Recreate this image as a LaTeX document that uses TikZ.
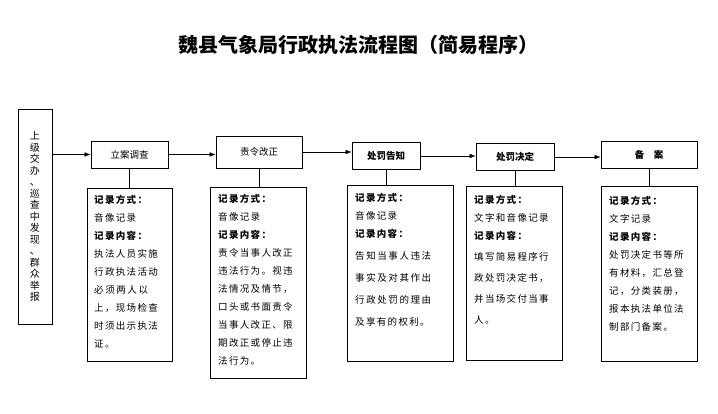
\documentclass[tikz,border=0pt]{standalone}
\usepackage{fontspec}
\setmainfont{Noto Sans CJK SC}
\newfontfamily\detfont[LetterSpace=14]{Noto Sans CJK SC}
\usetikzlibrary{arrows.meta}
\begin{document}
\begin{tikzpicture}[x=1pt,y=-1pt,
  hbox/.style={draw,thick,minimum height=27pt,font=\fontsize{9.5}{10}\selectfont},
  dbox/.style={draw,thick,anchor=north west,inner sep=0pt},
  dtext/.style={anchor=north west,align=left,inner sep=0pt,font=\detfont\fontsize{9.5}{18}\selectfont},
  arr/.style={-{Latex[length=6pt]},thin},
  link/.style={thin}]
\useasboundingbox (0,0) rectangle (718,413);
\node[font=\bfseries\fontsize{20}{22}\selectfont] (title) at (358,45) {魏县气象局行政执法流程图（简易程序）};
\node[draw,thick,minimum width=34pt,minimum height=215pt,align=center,font=\fontsize{10}{11.5}\selectfont] (src) at (35,216.5)
 {上\\级\\交\\办\\、\\巡\\查\\中\\发\\现\\、\\群\\众\\举\\报};
\node[hbox,minimum width=77pt] (h1) at (129.5,154.5) {立案调查};
\node[hbox,minimum width=86pt,minimum height=32pt] (h2) at (259,152) {责令改正};
\node[hbox,minimum width=68pt,font=\bfseries\fontsize{9.5}{10}\selectfont] (h3) at (386,156) {处罚告知};
\node[hbox,minimum width=78pt,font=\bfseries\fontsize{9.5}{10}\selectfont] (h4) at (515,157) {处罚决定};
\node[hbox,minimum width=96pt,font=\bfseries\fontsize{9.5}{10}\selectfont] (h5) at (649,155) {备\quad 案};
\draw[arr] (src.east |- h1) -- (h1.west);
\draw[arr] (h1.east) -- (h1.east -| h2.west);
\draw[arr] (h2.east) -- (h2.east -| h3.west);
\draw[arr] (h3.east) -- (h3.east -| h4.west);
\draw[arr] (h4.east) -- (h4.east -| h5.west);
\node[dbox,minimum width=85pt,minimum height=173pt] (d1) at (87,188) {};
\node[dtext] (t1) at (94,195)
 {\textbf{记录方式：}\\音像记录\\\textbf{记录内容：}\\执法人员实施\\行政执法活动\\必\,须\,两\,人\,以\\上，现场检查\\时须出示执法\\证。};
\node[dbox,minimum width=96pt,minimum height=191pt] (d2) at (210,187) {};
\node[dtext] (t2) at (218,194)
 {\textbf{记录方式：}\\音像记录\\\textbf{记录内容：}\\责令当事人改正\\违法行为。视违\\法情况及情节，\\口头或书面责令\\当事人改正、限\\期改正或停止违\\法行为。};
\node[dbox,minimum width=106pt,minimum height=176pt] (d3) at (347,185) {};
\node[dtext] (t3) at (355,193)
 {\textbf{记录方式：}\\音像记录\\\textbf{记录内容：}\\[4pt]告\,知\,当\,事\,人\,违\,法\\[4pt]事\,实\,及\,对\,其\,作\,出\\[4pt]行\,政\,处\,罚\,的\,理\,由\\[4pt]及享有的权利。};
\node[dbox,minimum width=96pt,minimum height=174pt] (d4) at (466,186) {};
\node[dtext] (t4) at (474,195)
 {\textbf{记录方式：}\\文字和音像记录\\\textbf{记录内容：}\\[3pt]填写简易程序行\\[3pt]政处罚决定书，\\[3pt]并当场交付当事\\[3pt]人。};
\node[dbox,minimum width=96pt,minimum height=175pt] (d5) at (601,186) {};
\node[dtext] (t5) at (609,196)
 {\textbf{记录方式：}\\文字记录\\\textbf{记录内容：}\\处罚决定书等所\\有材料，汇总登\\记，分类装册，\\报本执法单位法\\制部门备案。};
\draw[link] (h1.south) -- (h1.south |- d1.north);
\draw[link] (h2.south) -- (h2.south |- d2.north);
\draw[link] (h3.south) -- (h3.south |- d3.north);
\draw[link] (h4.south) -- (h4.south |- d4.north);
\draw[link] (h5.south) -- (h5.south |- d5.north);
\end{tikzpicture}
\end{document}
